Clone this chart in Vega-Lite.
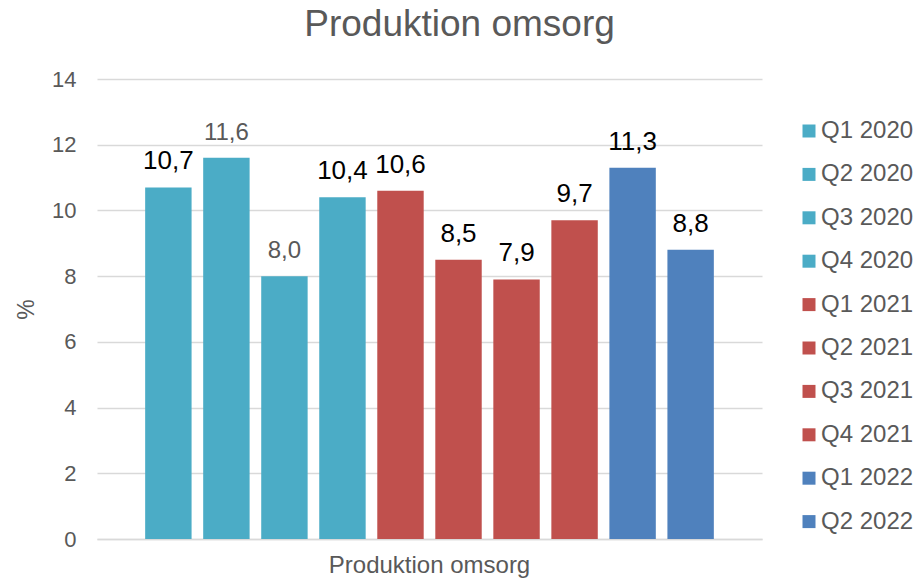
{
  "$schema": "https://vega.github.io/schema/vega-lite/v6.json",
  "width": 665,
  "height": 460,
  "autosize": {"type": "none"},
  "padding": {"left": 97, "top": 79, "right": 156, "bottom": 41},
  "background": "white",
  "config": {
    "font": "Liberation Sans",
    "view": {"stroke": null},
    "locale": {"number": {"decimal": ",", "thousands": " ", "grouping": [3], "currency": ["", " kr"]}}
  },
  "title": {
    "text": "Produktion omsorg",
    "fontSize": 37,
    "fontWeight": "normal",
    "color": "#595959",
    "anchor": "middle",
    "frame": "group",
    "dx": 30,
    "offset": 24
  },
  "data": {
    "values": [
      {"group": "Produktion omsorg", "quarter": "Q1 2020", "value": 10.7},
      {"group": "Produktion omsorg", "quarter": "Q2 2020", "value": 11.6},
      {"group": "Produktion omsorg", "quarter": "Q3 2020", "value": 8.0},
      {"group": "Produktion omsorg", "quarter": "Q4 2020", "value": 10.4},
      {"group": "Produktion omsorg", "quarter": "Q1 2021", "value": 10.6},
      {"group": "Produktion omsorg", "quarter": "Q2 2021", "value": 8.5},
      {"group": "Produktion omsorg", "quarter": "Q3 2021", "value": 7.9},
      {"group": "Produktion omsorg", "quarter": "Q4 2021", "value": 9.7},
      {"group": "Produktion omsorg", "quarter": "Q1 2022", "value": 11.3},
      {"group": "Produktion omsorg", "quarter": "Q2 2022", "value": 8.8}
    ]
  },
  "encoding": {
    "x": {
      "field": "group",
      "type": "nominal",
      "scale": {"paddingInner": 0, "paddingOuter": 0.073},
      "axis": {
        "title": null,
        "labelAngle": 0,
        "labelFontSize": 24,
        "labelColor": "#595959",
        "labelPadding": 14,
        "labelLimit": 400,
        "ticks": false,
        "domainColor": "#D9D9D9",
        "domainWidth": 1.3
      }
    },
    "xOffset": {
      "field": "quarter",
      "type": "nominal",
      "sort": null,
      "scale": {"paddingInner": 0.2, "paddingOuter": 0.1}
    },
    "y": {
      "field": "value",
      "type": "quantitative",
      "scale": {"domain": [0, 14], "nice": false},
      "axis": {
        "title": "%",
        "titleFontSize": 23,
        "titleFontWeight": "normal",
        "titleColor": "#595959",
        "titlePadding": 13,
        "values": [0, 2, 4, 6, 8, 10, 12, 14],
        "labelFontSize": 22,
        "labelColor": "#595959",
        "labelPadding": 21,
        "ticks": false,
        "domain": false,
        "gridColor": "#D9D9D9",
        "gridWidth": 1.3
      }
    }
  },
  "layer": [
    {
      "mark": {"type": "bar"},
      "encoding": {
        "color": {
          "field": "quarter",
          "type": "nominal",
          "sort": null,
          "scale": {
            "domain": ["Q1 2020", "Q2 2020", "Q3 2020", "Q4 2020", "Q1 2021", "Q2 2021", "Q3 2021", "Q4 2021", "Q1 2022", "Q2 2022"],
            "range": ["#4BACC6", "#4BACC6", "#4BACC6", "#4BACC6", "#C0504D", "#C0504D", "#C0504D", "#C0504D", "#4F81BD", "#4F81BD"]
          },
          "legend": {
            "title": null,
            "orient": "none",
            "legendX": 700,
            "legendY": 40,
            "padding": 0,
            "symbolType": "square",
            "symbolSize": 169,
            "symbolStrokeWidth": 0,
            "labelFontSize": 24,
            "labelColor": "#595959",
            "labelOffset": 0,
            "rowPadding": 19.4
          }
        }
      }
    },
    {
      "mark": {"type": "text", "baseline": "alphabetic"},
      "encoding": {
        "text": {"field": "value", "type": "quantitative", "format": ".1f"},
        "color": {
          "condition": {"test": "datum.quarter == 'Q2 2020' || datum.quarter == 'Q3 2020'", "value": "#595959"},
          "value": "#000000"
        },
        "size": {
          "condition": {"test": "datum.quarter == 'Q2 2020' || datum.quarter == 'Q3 2020'", "value": 24},
          "value": 26
        },
        "yOffset": {
          "condition": {"test": "datum.quarter == 'Q2 2020' || datum.quarter == 'Q3 2020'", "value": -16},
          "value": -18
        }
      }
    }
  ]
}
